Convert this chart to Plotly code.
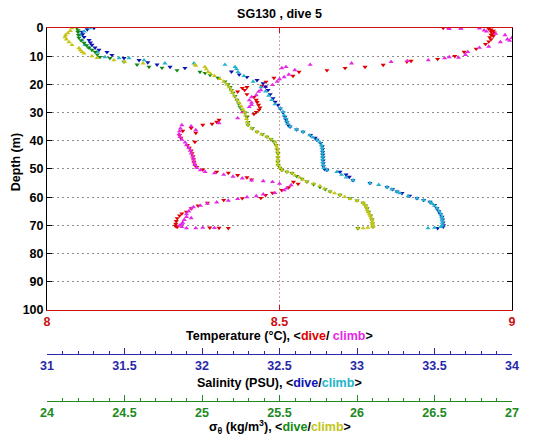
import plotly.graph_objects as go

# ---------------- data ----------------
T_DIVE_DEPTH = [
    0.0, 0.3, 0.6, 1.0, 1.3, 1.6, 2.0, 2.4, 2.8, 3.3,
    4.0, 4.8, 5.7, 7.4, 8.5, 10.0, 11.0, 11.7, 12.0, 13.1,
    13.8, 14.2, 15.0, 15.6, 17.0, 17.7, 19.1, 20.5, 21.0, 21.3,
    22.0, 22.6, 23.5, 24.5, 25.5, 26.3, 27.3, 28.2, 29.0, 29.8,
    30.5, 31.5, 32.6, 33.3, 34.0, 34.4, 35.5, 36.5, 37.2, 38.0,
    39.0, 40.4, 41.5, 42.5, 43.5, 44.5, 45.5, 46.5, 47.5, 48.5,
    49.3, 50.2, 51.0, 51.4, 52.2, 53.0, 53.8, 54.6, 55.3, 56.5,
    57.5, 58.5, 59.3, 60.3, 60.4, 61.0, 62.0, 63.0, 64.0, 65.2,
    65.8, 66.5, 67.5, 68.5, 69.5, 70.2, 70.6, 70.8, 70.9, 71.0]
T_DIVE = [
    8.852, 8.95, 8.955, 8.96, 8.955, 8.962, 8.958, 8.955, 8.96, 8.952,
    8.955, 8.95, 8.943, 8.923, 8.897, 8.877, 8.84, 8.783, 8.774, 8.723,
    8.684, 8.641, 8.602, 8.542, 8.529, 8.488, 8.471, 8.462, 8.43, 8.42,
    8.425, 8.41, 8.43, 8.445, 8.45, 8.452, 8.455, 8.458, 8.456, 8.45,
    8.445, 8.43, 8.37, 8.365, 8.355, 8.335, 8.31, 8.292, 8.32, 8.285,
    8.288, 8.318, 8.302, 8.306, 8.31, 8.312, 8.314, 8.315, 8.316, 8.318,
    8.322, 8.335, 8.365, 8.39, 8.41, 8.43, 8.44, 8.53, 8.54, 8.52,
    8.505, 8.485, 8.47, 8.46, 8.42, 8.38, 8.345, 8.325, 8.31, 8.30,
    8.29, 8.285, 8.28, 8.278, 8.277, 8.276, 8.28, 8.35, 8.37, 8.39]

T_CLIMB_DEPTH = [
    71.0, 71.0, 70.8, 70.9, 70.5, 70.0, 69.5, 69.0, 68.0, 67.4,
    67.0, 66.0, 65.0, 64.0, 63.5, 63.0, 62.3, 61.8, 61.2, 60.6,
    60.0, 59.6, 59.0, 58.5, 57.5, 56.9, 55.7, 55.2, 54.6, 54.3,
    54.0, 53.3, 52.7, 52.0, 51.5, 51.0, 50.4, 49.5, 48.5, 47.5,
    46.5, 45.5, 44.5, 43.5, 42.5, 41.5, 40.6, 39.6, 38.6, 37.6,
    36.6, 35.6, 34.4, 34.8, 36.2, 33.7, 32.0, 29.8, 28.0, 27.3,
    26.5, 25.6, 24.5, 23.8, 22.6, 22.0, 20.9, 20.2, 19.0, 18.1,
    17.4, 16.5, 14.9, 14.2, 13.8, 13.0, 12.5, 12.0, 11.7, 11.4,
    10.7, 10.3, 10.5, 9.5, 8.5, 7.0, 6.6, 5.0, 4.5, 4.0,
    3.5, 2.5, 2.0, 1.2, 0.3, 0.2, 0.1, 0.0, 0.0, 0.8]
T_CLIMB = [
    8.30, 8.32, 8.335, 8.36, 8.29, 8.285, 8.29, 8.292, 8.295, 8.31,
    8.30, 8.30, 8.305, 8.31, 8.315, 8.33, 8.345, 8.365, 8.39, 8.41,
    8.43, 8.45, 8.465, 8.49, 8.51, 8.515, 8.525, 8.50, 8.485, 8.465,
    8.44, 8.42, 8.40, 8.38, 8.36, 8.34, 8.33, 8.322, 8.318, 8.316,
    8.315, 8.313, 8.31, 8.308, 8.305, 8.30, 8.297, 8.29, 8.286, 8.284,
    8.285, 8.287, 8.29, 8.31, 8.32, 8.37, 8.41, 8.42, 8.435, 8.44,
    8.44, 8.435, 8.44, 8.45, 8.455, 8.46, 8.47, 8.485, 8.495, 8.50,
    8.51, 8.52, 8.533, 8.505, 8.514, 8.566, 8.655, 8.74, 8.775, 8.82,
    8.855, 8.865, 8.885, 8.90, 8.905, 8.93, 8.95, 8.975, 8.995, 8.99,
    9.0, 8.985, 8.965, 8.945, 8.865, 8.89, 8.93, 8.864, 8.89, 8.94]

S_DIVE_DEPTH = [
    0.0, 0.5, 1.4, 2.3, 3.2, 4.3, 5.2, 6.0, 7.0, 7.8,
    8.6, 9.6, 10.7, 11.4, 12.2, 13.0, 13.8, 14.2, 15.5, 16.5,
    17.4, 18.5, 19.6, 20.8, 22.0, 23.5, 25.0, 26.2, 27.3, 28.6,
    30.0, 31.5, 32.5, 33.4, 34.4, 35.0, 36.0, 36.8, 38.0, 39.0,
    39.7, 40.8, 42.0, 43.0, 44.0, 45.0, 46.0, 47.0, 48.0, 49.0,
    50.0, 50.4, 51.0, 52.0, 52.8, 54.0, 55.0, 56.4, 57.2, 58.0,
    58.6, 59.5, 60.4, 61.0, 61.7, 62.8, 64.0, 65.0, 66.0, 67.0,
    68.0, 69.0, 70.0, 70.5, 71.0]
S_DIVE = [
    31.303, 31.26, 31.226, 31.23, 31.239, 31.271, 31.28, 31.29, 31.31, 31.335,
    31.387, 31.419, 31.497, 31.594, 31.65, 31.71, 31.794, 31.89, 32.19, 32.24,
    32.29, 32.355, 32.394, 32.41, 32.426, 32.44, 32.458, 32.472, 32.49, 32.505,
    32.523, 32.535, 32.542, 32.548, 32.556, 32.568, 32.61, 32.652, 32.70, 32.73,
    32.742, 32.765, 32.776, 32.778, 32.779, 32.78, 32.781, 32.782, 32.782, 32.783,
    32.79, 32.806, 32.89, 32.93, 32.95, 32.974, 33.084, 33.194, 33.23, 33.258,
    33.29, 33.34, 33.387, 33.43, 33.471, 33.50, 33.516, 33.528, 33.538, 33.548,
    33.552, 33.555, 33.558, 33.556, 33.52]

S_CLIMB_DEPTH = [
    71.0, 70.8, 70.5, 70.0, 69.0, 68.0, 67.0, 66.0, 65.0, 64.0,
    63.0, 62.3, 61.7, 61.0, 60.4, 59.6, 58.6, 58.0, 57.2, 56.4,
    55.6, 55.0, 54.0, 53.0, 52.0, 51.0, 50.4, 49.6, 48.5, 47.5,
    46.5, 45.5, 44.5, 43.5, 42.5, 41.5, 40.5, 39.7, 38.8, 38.0,
    36.8, 36.0, 35.0, 34.0, 33.0, 32.0, 31.0, 29.7, 28.5, 27.0,
    25.5, 24.0, 22.5, 21.0, 19.0, 17.0, 15.6, 14.5, 13.8, 13.0,
    12.5, 12.5, 11.4, 10.7, 10.7, 10.3, 8.5, 7.0, 6.0, 4.3,
    2.5, 1.2, 0.0]
S_CLIMB = [
    33.458, 33.50, 33.54, 33.552, 33.55, 33.549, 33.546, 33.54, 33.53, 33.516,
    33.50, 33.485, 33.471, 33.43, 33.387, 33.33, 33.277, 33.258, 33.225, 33.194,
    33.14, 33.084, 32.974, 32.93, 32.90, 32.87, 32.806, 32.785, 32.781, 32.779,
    32.778, 32.778, 32.777, 32.776, 32.774, 32.77, 32.76, 32.742, 32.715, 32.695,
    32.652, 32.61, 32.568, 32.552, 32.548, 32.538, 32.53, 32.523, 32.505, 32.47,
    32.45, 32.43, 32.41, 32.38, 32.33, 32.27, 32.232, 32.222, 32.213, 32.148,
    31.948, 31.761, 31.626, 31.529, 31.465, 31.374, 31.323, 31.271, 31.245, 31.226,
    31.213, 31.24, 31.277]

G_DIVE_DEPTH = [
    0.0, 0.8, 1.5, 2.5, 3.5, 4.4, 5.3, 6.2, 7.0, 7.8,
    8.5, 9.4, 10.3, 10.7, 12.0, 13.0, 13.8, 14.1, 15.0, 15.6,
    16.0, 16.7, 17.7, 19.0, 20.0, 21.0, 22.0, 23.0, 24.2, 25.5,
    26.8, 28.0, 29.0, 30.0, 31.5, 33.4, 34.4, 35.6, 36.8, 37.7,
    38.6, 39.5, 40.4, 41.5, 43.0, 44.5, 46.0, 47.5, 48.6, 49.6,
    50.4, 51.0, 51.5, 52.5, 53.5, 54.5, 55.5, 56.4, 57.2, 58.0,
    59.2, 60.4, 61.2, 62.0, 63.0, 64.0, 65.2, 66.5, 68.0, 69.3,
    70.5, 71.0]
G_DIVE = [
    24.194, 24.2, 24.20, 24.203, 24.206, 24.22, 24.239, 24.255, 24.271, 24.29,
    24.31, 24.325, 24.342, 24.406, 24.497, 24.581, 24.658, 24.742, 24.839, 24.987,
    25.02, 25.052, 25.103, 25.148, 25.168, 25.181, 25.19, 25.20, 25.213, 25.226,
    25.236, 25.245, 25.258, 25.277, 25.29, 25.297, 25.297, 25.325, 25.355, 25.39,
    25.419, 25.445, 25.465, 25.478, 25.484, 25.49, 25.49, 25.49, 25.492, 25.503,
    25.516, 25.548, 25.581, 25.61, 25.645, 25.677, 25.72, 25.761, 25.795, 25.826,
    25.89, 25.955, 26.0, 26.039, 26.055, 26.065, 26.075, 26.088, 26.097, 26.10,
    26.103, 26.006]

G_CLIMB_DEPTH = [
    71.0, 71.0, 70.8, 70.5, 70.0, 69.5, 68.8, 68.0, 67.2, 66.5,
    65.8, 65.2, 64.4, 63.5, 62.7, 62.0, 61.3, 60.6, 59.9, 59.2,
    58.6, 58.0, 57.0, 56.0, 55.2, 54.5, 53.8, 53.0, 52.3, 51.5,
    51.0, 50.4, 49.6, 48.6, 47.6, 46.6, 45.6, 44.5, 43.5, 42.5,
    41.5, 40.4, 39.5, 38.6, 37.7, 36.8, 35.6, 34.4, 33.3, 32.2,
    31.0, 30.0, 29.0, 27.8, 26.6, 25.5, 24.2, 23.0, 22.0, 21.0,
    20.0, 19.0, 18.0, 17.0, 16.2, 15.6, 14.6, 13.8, 13.3, 13.0,
    12.5, 12.0, 11.4, 10.6, 10.0, 9.0, 8.5, 7.8, 7.1, 6.0,
    5.0, 4.0, 3.2, 2.5, 1.8, 1.0, 0.0]
G_CLIMB = [
    26.006, 26.04, 26.07, 26.103, 26.102, 26.10, 26.099, 26.097, 26.09, 26.085,
    26.078, 26.071, 26.065, 26.06, 26.05, 26.039, 26.0, 25.955, 25.92, 25.89,
    25.855, 25.826, 25.79, 25.761, 25.72, 25.677, 25.65, 25.63, 25.60, 25.581,
    25.55, 25.516, 25.503, 25.49, 25.49, 25.49, 25.49, 25.49, 25.487, 25.484,
    25.478, 25.471, 25.445, 25.419, 25.385, 25.355, 25.32, 25.297, 25.292, 25.287,
    25.28, 25.275, 25.265, 25.253, 25.24, 25.226, 25.21, 25.195, 25.187, 25.175,
    25.16, 25.14, 25.115, 25.08, 25.055, 25.039, 25.028, 25.019, 24.96, 24.955,
    24.62, 24.50, 24.432, 24.323, 24.29, 24.239, 24.226, 24.215, 24.206, 24.161,
    24.142, 24.125, 24.116, 24.12, 24.135, 24.15, 24.161]

DEPTH_TICKS = list(range(0, 101, 10))
TEMP_TICKS = [8, 8.5, 9]
TEMP_TICK_TEXT = ["8", "8.5", "9"]

# ---------------- styling ----------------
RED = "#e00000"
MAG = "#e628e6"
BLUE = "#0c14b4"
CYAN = "#22b4cc"
GREEN = "#148a14"
YEL = "#c4c418"
AX_RED = "#cc1010"
AX_BLUE = "#2828a8"
AX_GREEN = "#208a20"
FONT = "Liberation Sans, Arial, Helvetica, sans-serif"

# the page body adds an 8px margin, so the figure is 8px smaller than the window
W, H = 527, 434

fig = go.Figure()

def add(x, y, color, symbol, xaxis):
    fig.add_trace(go.Scatter(
        x=x, y=y, mode="markers", xaxis=xaxis, yaxis="y",
        marker=dict(symbol=symbol, size=4.5, color=color, line=dict(width=0)),
        hoverinfo="skip", showlegend=False))

add(T_DIVE, T_DIVE_DEPTH, RED, "triangle-down", "x")
add(T_CLIMB, T_CLIMB_DEPTH, MAG, "triangle-up", "x")
add(S_DIVE, S_DIVE_DEPTH, BLUE, "triangle-down", "x2")
add(S_CLIMB, S_CLIMB_DEPTH, CYAN, "triangle-up", "x2")
add(G_DIVE, G_DIVE_DEPTH, GREEN, "triangle-down", "x3")
add(G_CLIMB, G_CLIMB_DEPTH, YEL, "triangle-up", "x3")

tickfont = lambda c: dict(family=FONT, size=12.5, color=c, weight="bold")

fig.update_layout(
    width=W, height=H,
    margin=dict(l=39, r=23, t=20, b=41, autoexpand=False),
    plot_bgcolor="white", paper_bgcolor="white",
    showlegend=False,
    font=dict(family=FONT, size=12.5, color="black"),
    title=dict(text="<b>SG130 , dive 5</b>", x=0.5, xref="paper", xanchor="center",
               y=1 - 5.5 / H, yref="container", yanchor="middle",
               font=dict(family=FONT, size=12.5, color="black")),
    xaxis=dict(domain=[0, 1], anchor="y", range=[8, 9], automargin=False,
               tickvals=TEMP_TICKS, ticktext=TEMP_TICK_TEXT,
               ticks="inside", ticklen=5, tickcolor=AX_RED,
               showline=True, linecolor=AX_RED, linewidth=1, mirror="ticks",
               showgrid=True, gridcolor="#dca0a0", griddash="1.5px,2.5px", gridwidth=1,
               zeroline=False, tickfont=tickfont(AX_RED)),
    yaxis=dict(domain=[0.244, 1], anchor="x", range=[100, 0], automargin=False,
               tickvals=DEPTH_TICKS, ticks="inside", ticklen=5, tickcolor="black",
               showline=True, linecolor="black", linewidth=1, mirror="ticks",
               showgrid=True, gridcolor="#8c8c8c", griddash="1.5px,3.5px", gridwidth=1,
               zeroline=False, tickfont=tickfont("black")),
    xaxis2=dict(overlaying="x", anchor="free", position=0.126, range=[31, 34], automargin=False,
                tick0=31, dtick=0.5, ticks="inside", ticklen=6, tickcolor=AX_BLUE,
                showline=True, linecolor=AX_BLUE, linewidth=1, showgrid=False,
                zeroline=False, tickfont=tickfont(AX_BLUE),
                minor=dict(tick0=31, dtick=0.1, ticks="inside", ticklen=3,
                           tickcolor=AX_BLUE, showgrid=False)),
    xaxis3=dict(overlaying="x", anchor="free", position=0.0, range=[24, 27], automargin=False,
                tick0=24, dtick=0.5, ticks="inside", ticklen=6, tickcolor=AX_GREEN,
                showline=True, linecolor=AX_GREEN, linewidth=1, showgrid=False,
                zeroline=False, tickfont=tickfont(AX_GREEN),
                minor=dict(tick0=24, dtick=0.1, ticks="inside", ticklen=3,
                           tickcolor=AX_GREEN, showgrid=False)),
)

def span(c, t):
    return "<span style='color:%s'>%s</span>" % (c, t)

annots = [
    dict(text="<b>Temperature (°C), &lt;" + span(RED, "dive") + "/ " + span(MAG, "climb") + "&gt;</b>",
         y=(401 - 336) / 373),
    dict(text="<b>Salinity (PSU), &lt;" + span(BLUE, "dive") + "/" + span(CYAN, "climb") + "&gt;</b>",
         y=(401 - 383) / 373),
    dict(text="<b>σ<sub>θ</sub> (kg/m<sup>3</sup>), &lt;" + span(GREEN, "dive") + "/" + span(YEL, "climb") + "&gt;</b>",
         y=(401 - 427) / 373),
]
for a in annots:
    fig.add_annotation(text=a["text"], x=0.5, xref="paper", y=a["y"], yref="paper",
                       xanchor="center", yanchor="middle", showarrow=False,
                       font=dict(family=FONT, size=12.5, color="black"))

# y-axis label (kept inside the figure's left edge)
fig.add_annotation(text="<b>Depth (m)</b>", textangle=-90, x=(16 - 47) / 465, xref="paper",
                   y=0.64, yref="paper", xanchor="center", yanchor="middle",
                   showarrow=False, font=dict(family=FONT, size=12.5, color="black"))

fig.write_html("out.html")
